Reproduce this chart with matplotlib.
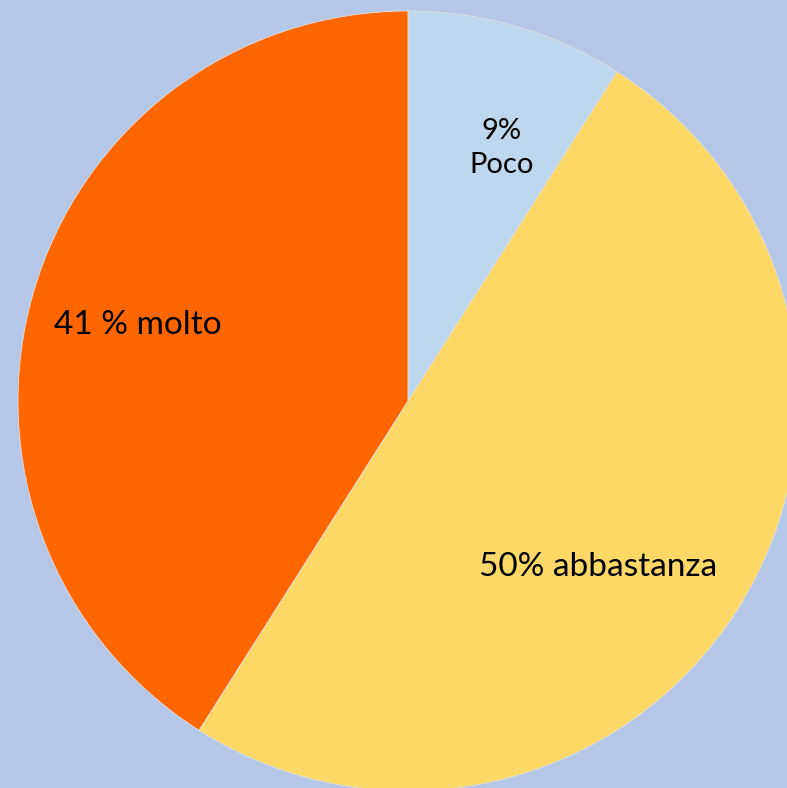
import matplotlib
matplotlib.use('Agg')
import matplotlib.pyplot as plt

labels = ['9%\nPoco', '50% abbastanza', '41 % molto']
values = [9, 50, 41]
colors = ['#BDD7EE', '#FDD866', '#FF6600']
label_sizes = [21, 24, 24]
bg = '#B4C7E7'

fig = plt.figure(figsize=(7.87, 7.88), dpi=100, facecolor=bg)
ax = fig.add_axes([0, 0, 1, 1])
ax.set_facecolor(bg)

cx, cy, r = 408, 788 - 401, 390
ax.pie(values, colors=colors, startangle=90, counterclock=False,
       center=(cx, cy), radius=r, frame=True,
       wedgeprops={'linewidth': 0.6, 'edgecolor': '#e0e0e0'})
ax.set_xlim(0, 787)
ax.set_ylim(0, 788)
ax.set_aspect('equal')
ax.axis('off')

# label positions (pixels)
pos = [(502, 788 - 148), (598, 788 - 567), (138, 788 - 325)]
for lab, (x, y), fs in zip(labels, pos, label_sizes):
    ax.text(x, y, lab, ha='center', va='center', fontsize=fs,
            family='Lato', linespacing=1.35, color='black')

fig.savefig('out.png', dpi=100, facecolor=bg)
